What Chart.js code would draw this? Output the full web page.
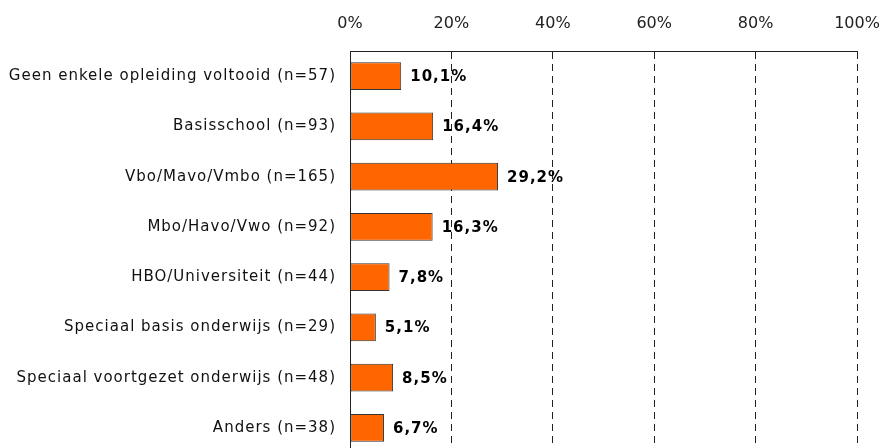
<!DOCTYPE html>
<html>
<head>
<meta charset="utf-8">
<script src="https://cdn.jsdelivr.net/npm/chart.js@4/dist/chart.umd.min.js"></script>
<style>
  html, body { margin: 0; padding: 0; background: #fff; overflow: hidden; }
</style>
</head>
<body>
<canvas id="eduCanvas" width="885" height="476"></canvas>
<script>
const categories = [
  "Geen enkele opleiding voltooid (n=57)",
  "Basisschool (n=93)",
  "Vbo/Mavo/Vmbo (n=165)",
  "Mbo/Havo/Vwo (n=92)",
  "HBO/Universiteit (n=44)",
  "Speciaal basis onderwijs (n=29)",
  "Speciaal voortgezet onderwijs (n=48)",
  "Anders (n=38)"
];
const percentages = [10.1, 16.4, 29.2, 16.3, 7.8, 5.1, 8.5, 6.7];
const tickValues = [0, 20, 40, 60, 80, 100];

const fontFamily = "'DejaVu Sans', Verdana, sans-serif";

// wider letter spacing on the category labels, the original font is Verdana-like
const spacing = {
  id: "spacing",
  beforeDraw(chart) { chart.ctx.letterSpacing = "1px"; },
  afterLayout(chart) {
    const x = chart.scales.x;
    if (x._plainLabels) return;
    x._plainLabels = true;
    const orig = x.drawLabels.bind(x);
    x.drawLabels = function(area) {
      const ctx = chart.ctx;
      const old = ctx.letterSpacing;
      ctx.letterSpacing = "0px";
      orig(area);
      ctx.letterSpacing = old;
    };
  }
};

// value labels next to each bar, "10,1%"
const barLabels = {
  id: "barLabels",
  afterDatasetsDraw(chart) {
    const ctx = chart.ctx;
    const meta = chart.getDatasetMeta(0);
    ctx.save();
    ctx.letterSpacing = "1px";
    ctx.font = "bold 15px " + fontFamily;
    ctx.fillStyle = "#000";
    ctx.textAlign = "left";
    ctx.textBaseline = "middle";
    meta.data.forEach(function(bar, i) {
      const txt = percentages[i].toFixed(1).replace(".", ",") + "%";
      ctx.fillText(txt, bar.x + 9, bar.y + 1);
    });
    ctx.restore();
  }
};

new Chart(document.getElementById("eduCanvas"), {
  type: "bar",
  data: {
    labels: categories,
    datasets: [{
      data: percentages,
      backgroundColor: "#FF6600",
      borderColor: "#333333",
      borderWidth: 1,
      borderSkipped: false,
      barPercentage: 0.55,
      categoryPercentage: 1
    }]
  },
  options: {
    indexAxis: "y",
    responsive: false,
    animation: false,
    layout: { padding: { left: 0, right: 28, top: 0, bottom: 0 } },
    plugins: {
      legend: { display: false },
      tooltip: { enabled: false }
    },
    scales: {
      x: {
        position: "top",
        min: 0,
        max: 100,
        afterBuildTicks(scale) {
          scale.ticks = tickValues.map(v => ({ value: v }));
        },
        afterFit(scale) {
          scale.height = 51;
          scale.paddingLeft = 0;
          scale.paddingRight = 0;
        },
        ticks: {
          color: "#222",
          font: { family: fontFamily, size: 16 },
          padding: 18,
          callback: v => v + "%"
        },
        grid: {
          color: ctx => ctx.index === 0 ? "rgba(0,0,0,0)" : "#222",
          lineWidth: 1,
          drawTicks: false
        },
        border: { display: true, color: "#222", width: 1, dash: [7, 5] }
      },
      y: {
        afterFit(scale) { scale.width = 350; },
        ticks: {
          color: "#111",
          font: { family: fontFamily, size: 15 },
          padding: 14
        },
        grid: { display: false, drawTicks: false },
        border: { display: true, color: "#222", width: 1 }
      }
    }
  },
  plugins: [spacing, barLabels]
});
</script>
</body>
</html>
